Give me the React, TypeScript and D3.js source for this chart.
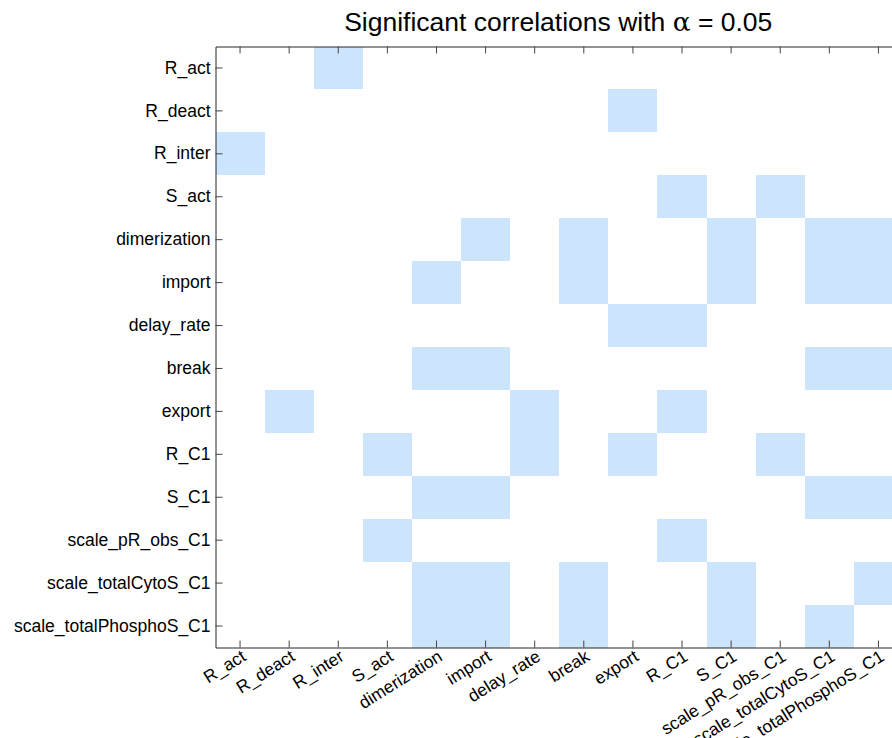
import { useEffect, useRef } from 'react'
import * as d3 from 'd3'

// parameter names (same order on both axes)
const params = [
  'R_act', 'R_deact', 'R_inter', 'S_act', 'dimerization', 'import', 'delay_rate',
  'break', 'export', 'R_C1', 'S_C1', 'scale_pR_obs_C1', 'scale_totalCytoS_C1',
  'scale_totalPhosphoS_C1',
]

// significant pairs: [row, column]
const significant: [string, string][] = [
  ['R_act', 'R_inter'],
  ['R_deact', 'export'],
  ['R_inter', 'R_act'],
  ['S_act', 'R_C1'], ['S_act', 'scale_pR_obs_C1'],
  ['dimerization', 'import'], ['dimerization', 'break'], ['dimerization', 'S_C1'],
  ['dimerization', 'scale_totalCytoS_C1'], ['dimerization', 'scale_totalPhosphoS_C1'],
  ['import', 'dimerization'], ['import', 'break'], ['import', 'S_C1'],
  ['import', 'scale_totalCytoS_C1'], ['import', 'scale_totalPhosphoS_C1'],
  ['delay_rate', 'export'], ['delay_rate', 'R_C1'],
  ['break', 'dimerization'], ['break', 'import'],
  ['break', 'scale_totalCytoS_C1'], ['break', 'scale_totalPhosphoS_C1'],
  ['export', 'R_deact'], ['export', 'delay_rate'], ['export', 'R_C1'],
  ['R_C1', 'S_act'], ['R_C1', 'delay_rate'], ['R_C1', 'export'], ['R_C1', 'scale_pR_obs_C1'],
  ['S_C1', 'dimerization'], ['S_C1', 'import'],
  ['S_C1', 'scale_totalCytoS_C1'], ['S_C1', 'scale_totalPhosphoS_C1'],
  ['scale_pR_obs_C1', 'S_act'], ['scale_pR_obs_C1', 'R_C1'],
  ['scale_totalCytoS_C1', 'dimerization'], ['scale_totalCytoS_C1', 'import'],
  ['scale_totalCytoS_C1', 'break'], ['scale_totalCytoS_C1', 'S_C1'],
  ['scale_totalCytoS_C1', 'scale_totalPhosphoS_C1'],
  ['scale_totalPhosphoS_C1', 'dimerization'], ['scale_totalPhosphoS_C1', 'import'],
  ['scale_totalPhosphoS_C1', 'break'], ['scale_totalPhosphoS_C1', 'S_C1'],
  ['scale_totalPhosphoS_C1', 'scale_totalCytoS_C1'],
]

const W = 892
const H = 738
// plot box runs past the right edge of the window, as in the original figure
const X0 = 215.5, X1 = 903
const Y0 = 46.5, Y1 = 647.5
const FONT = '"Liberation Sans", Arial, sans-serif'

export default function App() {
  const svgRef = useRef<SVGSVGElement>(null)

  useEffect(() => {
    document.body.style.margin = '0'
    const svg = d3.select(svgRef.current)
    svg.selectAll('*').remove()

    const x = d3.scaleBand<string>().domain(params).range([X0, X1]).padding(0)
    const y = d3.scaleBand<string>().domain(params).range([Y0, Y1]).padding(0)

    // ── cells ──
    svg.append('g')
      .attr('shape-rendering', 'crispEdges')
      .selectAll('rect')
      .data(significant)
      .join('rect')
      .attr('x', (d) => x(d[1])!)
      .attr('y', (d) => y(d[0])!)
      .attr('width', x.bandwidth())
      .attr('height', y.bandwidth())
      .attr('fill', '#cce4fc')

    // ── axes (ticks point inward) ──
    const styleAxis = (g: d3.Selection<SVGGElement, unknown, null, undefined>) => {
      g.select('.domain').attr('stroke', '#262626')
      g.selectAll('.tick line').attr('stroke', '#444')
      g.selectAll('.tick text')
        .attr('font-family', FONT).attr('font-size', 17.5).attr('fill', '#000')
    }

    const left = svg.append('g').attr('transform', `translate(${X0},0)`)
      .call(d3.axisLeft(y).tickSizeInner(-7).tickSizeOuter(0).tickPadding(5))
    styleAxis(left)

    const top = svg.append('g').attr('transform', `translate(0,${Y0})`)
      .call(d3.axisTop(x).tickSizeInner(-7).tickSizeOuter(0).tickFormat(() => ''))
    styleAxis(top)

    const bottom = svg.append('g').attr('transform', `translate(0,${Y1})`)
      .call(d3.axisBottom(x).tickSizeInner(-7).tickSizeOuter(0))
    styleAxis(bottom)
    bottom.selectAll('.tick text')
      .attr('text-anchor', 'end')
      .attr('dy', 0)
      .attr('y', 0)
      .attr('transform', 'translate(7,12) rotate(-32)')

    // ── title ──
    const title = svg.append('text')
      .attr('x', (X0 + X1) / 2 - 1).attr('y', 31)
      .attr('text-anchor', 'middle')
      .attr('font-family', FONT).attr('font-size', 26.5).attr('fill', '#000')
    title.append('tspan').text('Significant correlations with ')
    title.append('tspan').attr('font-family', '"DejaVu Serif", serif').text('α')
    title.append('tspan').text(' = 0.05')
  }, [])

  return (
    <svg ref={svgRef} width={W} height={H} style={{ display: 'block', background: '#fff' }} />
  )
}
